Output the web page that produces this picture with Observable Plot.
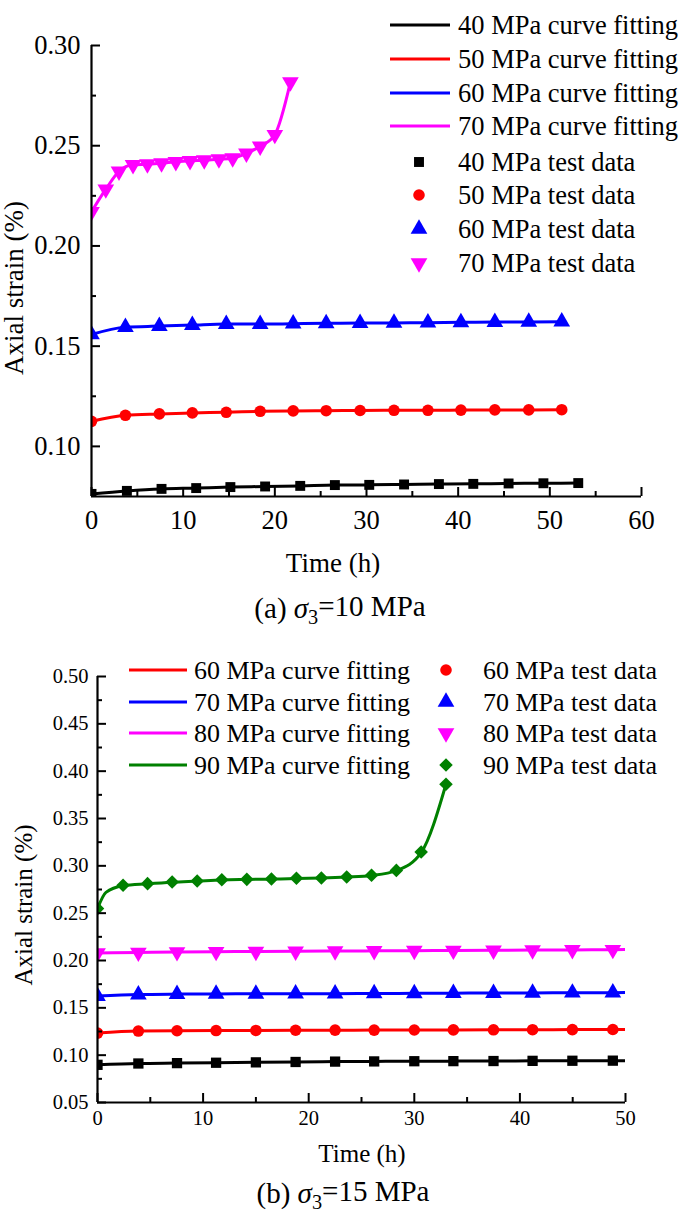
<!DOCTYPE html>
<html><head><meta charset="utf-8">
<script src="https://cdn.jsdelivr.net/npm/d3@7"></script>
<script src="https://cdn.jsdelivr.net/npm/@observablehq/plot@0.6"></script>
<style>body{margin:0;background:#fff;width:685px} svg{display:block}</style>
</head><body><div id="a"></div><div id="b"></div>
<script>
// ---------- (a) sigma3 = 10 MPa ----------
const a_t40 = [0, 3.86, 7.64, 11.42, 15.15, 18.94, 22.77, 26.55, 30.3, 34.1, 37.9, 41.65, 45.5, 49.3, 53.1];
const a_v40 = [0.0763, 0.0778, 0.0788, 0.0792, 0.0797, 0.0800, 0.0803, 0.0807, 0.0808, 0.0810, 0.0812, 0.0813, 0.0815, 0.0816, 0.0817];
const a_t5060 = [0, 3.7, 7.4, 11.0, 14.7, 18.4, 22.0, 25.6, 29.3, 33.0, 36.7, 40.3, 44.0, 47.7, 51.3];
const a_v50 = [0.1125, 0.1155, 0.1162, 0.1167, 0.1170, 0.1175, 0.1177, 0.1178, 0.1179, 0.1180, 0.1180, 0.1181, 0.1182, 0.1182, 0.1183];
const a_v60 = [0.1558, 0.1595, 0.1600, 0.1605, 0.1610, 0.1610, 0.1612, 0.1614, 0.1615, 0.1616, 0.1617, 0.1619, 0.1620, 0.1621, 0.1622];
const a_t70 = [0, 1.56, 3.0, 4.53, 6.1, 7.64, 9.2, 10.75, 12.3, 13.9, 15.4, 16.9, 18.4, 20.0, 21.7];
const a_v70 = [0.2170, 0.2283, 0.2372, 0.2405, 0.2408, 0.2413, 0.2420, 0.2425, 0.2428, 0.2433, 0.2438, 0.2462, 0.2497, 0.2555, 0.2817];
const a_xMajor = [0, 10, 20, 30, 40, 50, 60];
const a_xMinor = [5, 15, 25, 35, 45, 55];
const a_yMajor = [0.10, 0.15, 0.20, 0.25, 0.30];
const a_yMinor = [0.125, 0.175, 0.225, 0.275];
const a_fitLabels = ["40 MPa curve fitting", "50 MPa curve fitting", "60 MPa curve fitting", "70 MPa curve fitting"];
const a_testLabels = ["40 MPa test data", "50 MPa test data", "60 MPa test data", "70 MPa test data"];

// ---------- (b) sigma3 = 15 MPa ----------
const b_t = [0, 3.87, 7.53, 11.23, 15.0, 18.76, 22.5, 26.2, 30.0, 33.7, 37.5, 41.2, 44.97, 48.8];
const b_v50 = [0.0898, 0.0912, 0.0916, 0.0920, 0.0924, 0.0928, 0.0932, 0.0934, 0.0936, 0.0937, 0.0938, 0.0940, 0.0941, 0.0942];
const b_v60 = [0.1233, 0.1255, 0.1258, 0.1260, 0.1261, 0.1263, 0.1264, 0.1265, 0.1266, 0.1267, 0.1268, 0.1269, 0.1270, 0.1271];
const b_v70 = [0.1624, 0.1640, 0.1645, 0.1647, 0.1648, 0.1650, 0.1650, 0.1652, 0.1653, 0.1655, 0.1656, 0.1658, 0.1659, 0.1660];
const b_v80 = [0.2078, 0.2085, 0.2090, 0.2093, 0.2095, 0.2097, 0.2100, 0.2102, 0.2104, 0.2106, 0.2108, 0.2110, 0.2112, 0.2114];
const b_t90 = [0, 2.42, 4.74, 7.07, 9.44, 11.77, 14.14, 16.47, 18.84, 21.2, 23.6, 25.95, 28.3, 30.65, 33.0];
const b_v90 = [0.2548, 0.2794, 0.2812, 0.2829, 0.2840, 0.2854, 0.2857, 0.2861, 0.2868, 0.2871, 0.2882, 0.2900, 0.2952, 0.3146, 0.3862];
// fitted curves
const b_fitEndT = 50;
const b_fitEnd = [0.0942, 0.1272, 0.1661, 0.2115];
const b_fit90_t = [0, 0.8, 2.42, 4.74, 7.07, 9.44, 11.77, 14.14, 16.47, 18.84, 21.2, 23.6, 25.95, 28.3, 30.65, 33.0];
const b_fit90_v = [0.2548, 0.2720, 0.2790, 0.2810, 0.2827, 0.2839, 0.2851, 0.2856, 0.2860, 0.2866, 0.2871, 0.2881, 0.2898, 0.2950, 0.3140, 0.3862];
const b_xMajor = [0, 10, 20, 30, 40, 50];
const b_xMinor = [5, 15, 25, 35, 45];
const b_yMajor = [0.05, 0.10, 0.15, 0.20, 0.25, 0.30, 0.35, 0.40, 0.45, 0.50];
const b_yMinor = [0.075, 0.125, 0.175, 0.225, 0.275, 0.325, 0.375, 0.425, 0.475];
const b_fitLabels = ["60 MPa curve fitting", "70 MPa curve fitting", "80 MPa curve fitting", "90 MPa curve fitting"];
const b_testLabels = ["60 MPa test data", "70 MPa test data", "80 MPa test data", "90 MPa test data"];

const BLACK = "#000000", RED = "#ff0000", BLUE = "#0000ff", MAGENTA = "#ff00ff", GREEN = "#008000";
const FONT = "'Liberation Serif', 'Times New Roman', serif";

const symMap = {square: d3.symbolSquare, circle: d3.symbolCircle, triangle: d3.symbolTriangle};

function frameMarks(o) {
  const pw = o.width - o.ml - o.mr, ph = o.height - o.mt - o.mb;
  return [
    Plot.tickX(o.xMajor, {x: d => d, insetTop: ph - o.tMaj, strokeWidth: 2}),
    Plot.tickX(o.xMinor, {x: d => d, insetTop: ph - 5, strokeWidth: 2}),
    Plot.tickY(o.yMajor, {y: d => d, insetRight: pw - o.tMaj, strokeWidth: 2}),
    Plot.tickY(o.yMinor, {y: d => d, insetRight: pw - 5, strokeWidth: 2}),
    Plot.ruleX([o.xDomain[0]], {strokeWidth: 2.2}),
    Plot.ruleY([o.yDomain[0]], {strokeWidth: 2.2}),
    Plot.axisX(o.xMajor, {tickSize: 0, tickPadding: o.xPad, fontSize: o.tickFs, fontFamily: FONT, tickFormat: d => String(d), label: null}),
    Plot.axisY(o.yMajor, {tickSize: 0, tickPadding: o.yPad, fontSize: o.tickFs, fontFamily: FONT, tickFormat: d3.format(".2f"), label: null})
  ];
}

function seriesMarks(s) {
  const pts = d3.zip(s.t, s.v);
  const fit = d3.zip(s.ft, s.fv);
  return [
    Plot.line(fit, {x: d => d[0], y: d => d[1], stroke: s.color, strokeWidth: 3, curve: "monotone-x", clip: true}),
    Plot.dot(pts, {x: d => d[0], y: d => d[1], symbol: s.symbol, r: s.r, rotate: s.rotate, fill: s.color, stroke: "none", clip: true})
  ];
}

function addText(svg, x, y, txt, fs, opts = {}) {
  const t = svg.append("text").attr("x", x).attr("y", y).attr("dy", "0.35em")
    .attr("font-family", FONT).attr("font-size", fs).attr("fill", "#000")
    .attr("text-anchor", opts.anchor || "start");
  if (opts.rotate) t.attr("transform", `rotate(${opts.rotate},${x},${y})`);
  t.text(txt);
  return t;
}
function addCaption(svg, x, y, pre, post, fs) {
  const t = svg.append("text").attr("x", x).attr("y", y).attr("dy", "0.35em")
    .attr("font-family", FONT).attr("font-size", fs).attr("text-anchor", "middle").attr("fill", "#000");
  t.append("tspan").text(pre);
  t.append("tspan").attr("font-style", "italic").text("σ");
  t.append("tspan").attr("font-size", fs * 0.7).attr("dy", "0.3em").text("3");
  t.append("tspan").attr("dy", "-0.3em").text(post);
}
function legendLine(svg, x1, x2, y, color) {
  svg.append("line").attr("x1", x1).attr("x2", x2).attr("y1", y).attr("y2", y)
    .attr("stroke", color).attr("stroke-width", 3);
}
function legendSym(svg, x, y, s) {
  const p = d3.symbol().type(symMap[s.symbol]).size(Math.PI * s.r * s.r)();
  svg.append("path").attr("d", p).attr("fill", s.color)
    .attr("transform", `translate(${x},${y}) rotate(${s.rotate})`);
}

// ---------- chart (a) ----------
const A = {width: 685, height: 640, mt: 45, mb: 144, ml: 91, mr: 44,
  xDomain: [0, 60], yDomain: [0.075, 0.30], xMajor: a_xMajor, xMinor: a_xMinor,
  yMajor: a_yMajor, yMinor: a_yMinor, tickFs: 26.5, xPad: 14, yPad: 11, tMaj: 9};
const aSeries = [
  {t: a_t40, v: a_v40, ft: a_t40, fv: a_v40, color: BLACK, symbol: "square", r: 5.6, rotate: 0},
  {t: a_t5060, v: a_v50, ft: a_t5060, fv: a_v50, color: RED, symbol: "circle", r: 5.8, rotate: 0},
  {t: a_t5060, v: a_v60, ft: a_t5060, fv: a_v60, color: BLUE, symbol: "triangle", r: 6.2, rotate: 0},
  {t: a_t70, v: a_v70, ft: a_t70, fv: a_v70, color: MAGENTA, symbol: "triangle", r: 6.2, rotate: 180}
];
const chartA = Plot.plot({
  width: A.width, height: A.height, marginTop: A.mt, marginBottom: A.mb, marginLeft: A.ml, marginRight: A.mr,
  x: {domain: A.xDomain}, y: {domain: A.yDomain},
  style: {fontFamily: FONT, background: "#fff", color: "#000", overflow: "visible"},
  marks: [...aSeries.flatMap(seriesMarks), ...frameMarks(A)]
});
document.getElementById("a").append(chartA);
{
  const svg = d3.select(chartA);
  addText(svg, 333, 563, "Time (h)", 27, {anchor: "middle"});
  addText(svg, 14, 288, "Axial strain (%)", 27, {anchor: "middle", rotate: -90});
  addCaption(svg, 340, 608, "(a) ", "=10 MPa", 29);
  const lineY = [25, 59, 93, 126], symY = [162, 195, 229, 263];
  aSeries.forEach((s, i) => {
    legendLine(svg, 390, 450, lineY[i], s.color);
    addText(svg, 458, lineY[i], a_fitLabels[i], 26.5);
    legendSym(svg, 419, symY[i], s);
    addText(svg, 458, symY[i], a_testLabels[i], 26.5);
  });
}

// ---------- chart (b) ----------
const B = {width: 685, height: 577, mt: 36, mb: 115, ml: 97, mr: 60,
  xDomain: [0, 50], yDomain: [0.05, 0.50], xMajor: b_xMajor, xMinor: b_xMinor,
  yMajor: b_yMajor, yMinor: b_yMinor, tickFs: 20.5, xPad: 8, yPad: 9, tMaj: 9};
const bSeries = [
  {t: b_t, v: b_v50, ft: [...b_t, b_fitEndT], fv: [...b_v50, b_fitEnd[0]], color: BLACK, symbol: "square", r: 5.8, rotate: 0},
  {t: b_t, v: b_v60, ft: [...b_t, b_fitEndT], fv: [...b_v60, b_fitEnd[1]], color: RED, symbol: "circle", r: 5.8, rotate: 0},
  {t: b_t, v: b_v70, ft: [...b_t, b_fitEndT], fv: [...b_v70, b_fitEnd[2]], color: BLUE, symbol: "triangle", r: 6.2, rotate: 0},
  {t: b_t, v: b_v80, ft: [...b_t, b_fitEndT], fv: [...b_v80, b_fitEnd[3]], color: MAGENTA, symbol: "triangle", r: 6.2, rotate: 180},
  {t: b_t90, v: b_v90, ft: b_fit90_t, fv: b_fit90_v, color: GREEN, symbol: "square", r: 5.4, rotate: 45}
];
const chartB = Plot.plot({
  width: B.width, height: B.height, marginTop: B.mt, marginBottom: B.mb, marginLeft: B.ml, marginRight: B.mr,
  x: {domain: B.xDomain}, y: {domain: B.yDomain},
  style: {fontFamily: FONT, background: "#fff", color: "#000", overflow: "visible"},
  marks: [...bSeries.flatMap(seriesMarks), ...frameMarks(B)]
});
document.getElementById("b").append(chartB);
{
  const svg = d3.select(chartB);
  addText(svg, 362, 513, "Time (h)", 25, {anchor: "middle"});
  addText(svg, 23, 265, "Axial strain (%)", 25, {anchor: "middle", rotate: -90});
  addCaption(svg, 343, 553, "(b) ", "=15 MPa", 29);
  const rowY = [30, 62, 93, 125];
  bSeries.slice(1).forEach((s, i) => {
    legendLine(svg, 129, 187, rowY[i], s.color);
    addText(svg, 194, rowY[i], b_fitLabels[i], 26);
    legendSym(svg, 446, rowY[i], s);
    addText(svg, 483, rowY[i], b_testLabels[i], 26);
  });
}
</script></body></html>
